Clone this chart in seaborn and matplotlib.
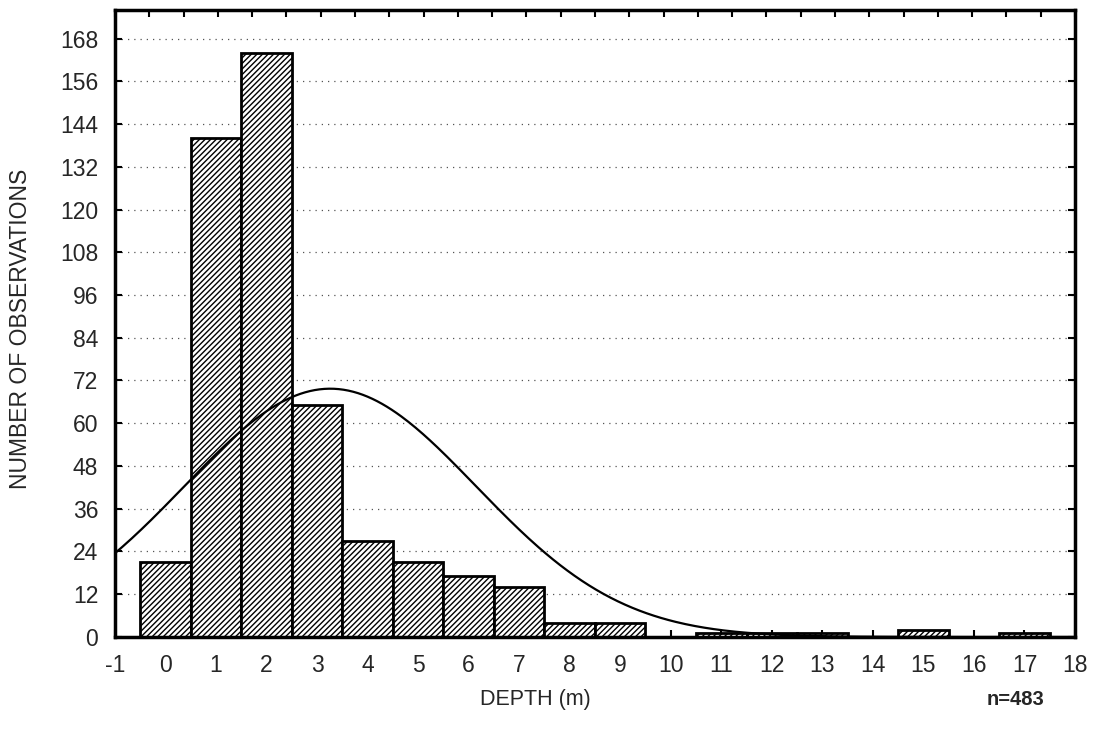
import numpy as np
import pandas as pd
import matplotlib
matplotlib.use("Agg")
import matplotlib.pyplot as plt
import seaborn as sns

# ---- data ----
depth_classes = [0, 1, 2, 3, 4, 5, 6, 7, 8, 9, 10, 11, 12, 13, 14, 15, 16, 17]
observations = [21, 140, 164, 65, 27, 21, 17, 14, 4, 4, 0, 1, 1, 1, 0, 2, 0, 1]
x_tick_labels = [str(v) for v in range(-1, 19)]
y_ticks = list(range(0, 169, 12))
# fitted normal curve parameters (as drawn in the reference)
curve_mean = 3.26
curve_sd = 2.89
curve_peak = 69.7
n_label = "n=483"

sns.set_theme(style="white")
plt.rcParams["font.family"] = ["Liberation Sans", "DejaVu Sans"]
plt.rcParams["hatch.linewidth"] = 1.0

fig = plt.figure(figsize=(10.94, 7.30), dpi=100)
ax = fig.add_axes([0.1051, 0.1274, 0.9826 - 0.1051, 0.9863 - 0.1274])

df = pd.DataFrame({"depth": depth_classes, "count": observations})
sns.histplot(data=df, x="depth", weights="count", discrete=True,
             color="white", edgecolor="black", linewidth=2.0, alpha=1.0,
             ax=ax, zorder=2)
for p in ax.patches:
    p.set_hatch("//////")
    p.set_facecolor("white")
    p.set_edgecolor("black")

xs = np.linspace(-1, 18, 400)
ys = curve_peak * np.exp(-0.5 * ((xs - curve_mean) / curve_sd) ** 2)
sns.lineplot(x=xs, y=ys, color="black", linewidth=1.6, ax=ax, zorder=3)

ax.set_xlim(-1, 18)
ax.set_ylim(0, 176)
ax.set_xticks(range(-1, 19))
ax.set_xticklabels(x_tick_labels, fontsize=16.5)
ax.set_yticks(y_ticks)
ax.set_yticklabels([str(v) for v in y_ticks], fontsize=16.5)
ax.yaxis.grid(True, linestyle=(0, (1, 4)), color="#555555", linewidth=0.9, zorder=0)
ax.xaxis.grid(False)
ax.set_axisbelow(True)

ax.tick_params(axis="both", direction="in", length=5, width=1.5, color="black",
               left=True, bottom=True, right=True, top=False, pad=12)
ax.tick_params(axis="y", labelright=False)
sec = ax.secondary_xaxis("top")
sec.set_xticks(np.linspace(-1, 18, 29))
sec.set_xticklabels([])
sec.tick_params(direction="in", length=5, width=1.5, color="black")
sec.spines["top"].set_visible(False)

for s in ax.spines.values():
    s.set_color("black")
    s.set_linewidth(2.5)
    s.set_visible(True)

ax.set_xlabel("")
ax.set_ylabel("")
fig.text(0.019, 0.549, "NUMBER OF OBSERVATIONS", rotation=90, ha="center",
         va="center", fontsize=16.5)
fig.text(0.489, 0.042, "DEPTH (m)", ha="center", va="center", fontsize=15.5)
fig.text(0.928, 0.042, n_label, ha="center", va="center", fontsize=14.5,
         fontweight="bold")

fig.savefig("out.png", dpi=100, facecolor="white")
